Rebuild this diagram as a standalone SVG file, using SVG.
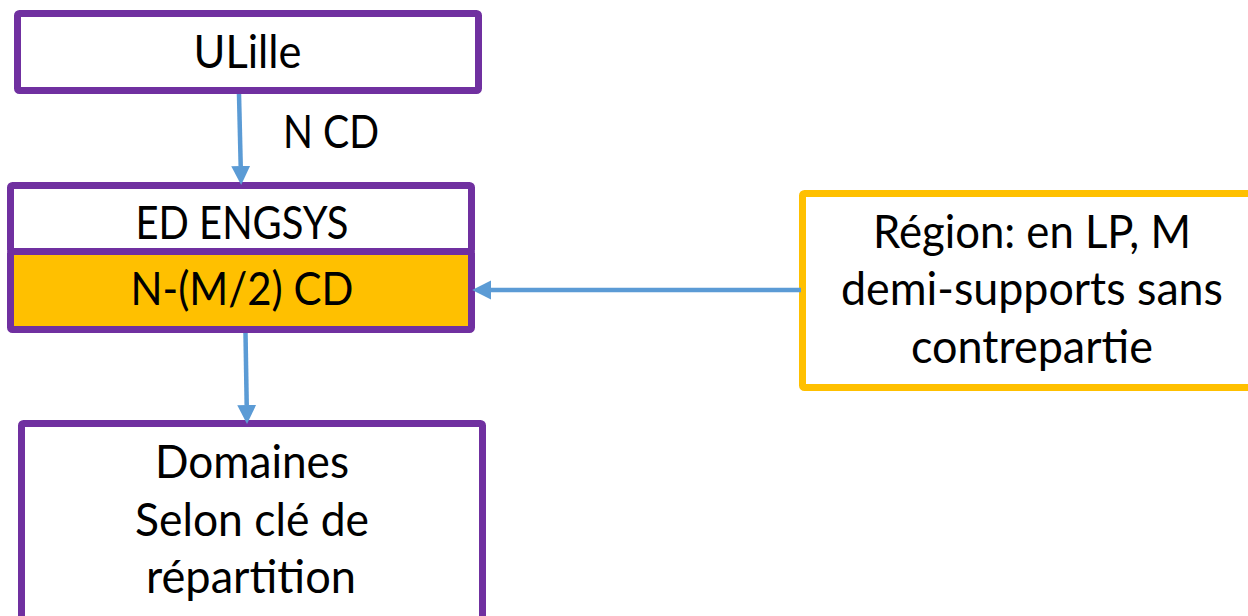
<svg xmlns="http://www.w3.org/2000/svg" width="1248" height="616" viewBox="0 0 1248 616">
<style>
.box{stroke:#7030A0;stroke-width:7;fill:#FFFFFF}
.ybox{stroke:#FFC000;stroke-width:7;fill:#FFFFFF}
.ofill{fill:#FFC000}
.t{font-family:Lato,"Open Sans","Liberation Sans",sans-serif;font-size:46px;fill:#000000}
.m{text-anchor:middle}
.c{stroke:#5B9BD5;stroke-width:4.5;fill:none}
</style>
<defs>
<marker id="ah" markerUnits="userSpaceOnUse" markerWidth="20" markerHeight="20" viewBox="0 -9 18 18" refX="0" refY="0" orient="auto">
<path d="M0,-8.5 L17,0 L0,8.5 Z" fill="#5B9BD5"/>
</marker>
</defs>
<rect width="1248" height="616" fill="#FFFFFF"/>
<g id="n-ulille">
<rect class="box" x="17.5" y="13.5" width="461" height="77" rx="2"/>
<text class="t m" x="247.5" y="68" textLength="108" lengthAdjust="spacingAndGlyphs">ULille</text>
</g>
<g id="n-ed">
<rect class="box" x="10.5" y="185.5" width="461" height="66" rx="2"/>
<rect class="box ofill" x="10.5" y="251.5" width="461" height="78" rx="2"/>
<text class="t m" x="242" y="239" textLength="213" lengthAdjust="spacingAndGlyphs">ED ENGSYS</text>
<text class="t m" x="242" y="305" textLength="223" lengthAdjust="spacingAndGlyphs">N-(M/2) CD</text>
</g>
<g id="n-domaines">
<rect class="box" x="21.5" y="423.5" width="461" height="210" rx="2"/>
<text class="t m" x="252" y="478" textLength="194" lengthAdjust="spacingAndGlyphs">Domaines</text>
<text class="t m" x="252" y="536" textLength="234" lengthAdjust="spacingAndGlyphs">Selon clé de</text>
<text class="t m" x="251" y="593" textLength="210" lengthAdjust="spacingAndGlyphs">répartition</text>
</g>
<g id="n-region">
<rect class="ybox" x="802.5" y="193.5" width="460" height="194" rx="2"/>
<text class="t m" x="1032" y="248" textLength="318" lengthAdjust="spacingAndGlyphs">Région: en LP, M</text>
<text class="t m" x="1032" y="305" textLength="382" lengthAdjust="spacingAndGlyphs">demi-supports sans</text>
<text class="t m" x="1032" y="363" textLength="242" lengthAdjust="spacingAndGlyphs">contrepartie</text>
</g>
<g id="connectors">
<line class="c" x1="239" y1="94" x2="240.7" y2="166" marker-end="url(#ah)"/>
<line class="c" x1="245.5" y1="333" x2="246.7" y2="405" marker-end="url(#ah)"/>
<line class="c" x1="801" y1="290" x2="491" y2="290" marker-end="url(#ah)"/>
<text class="t" x="283" y="148" textLength="96" lengthAdjust="spacingAndGlyphs">N CD</text>
</g>
</svg>
